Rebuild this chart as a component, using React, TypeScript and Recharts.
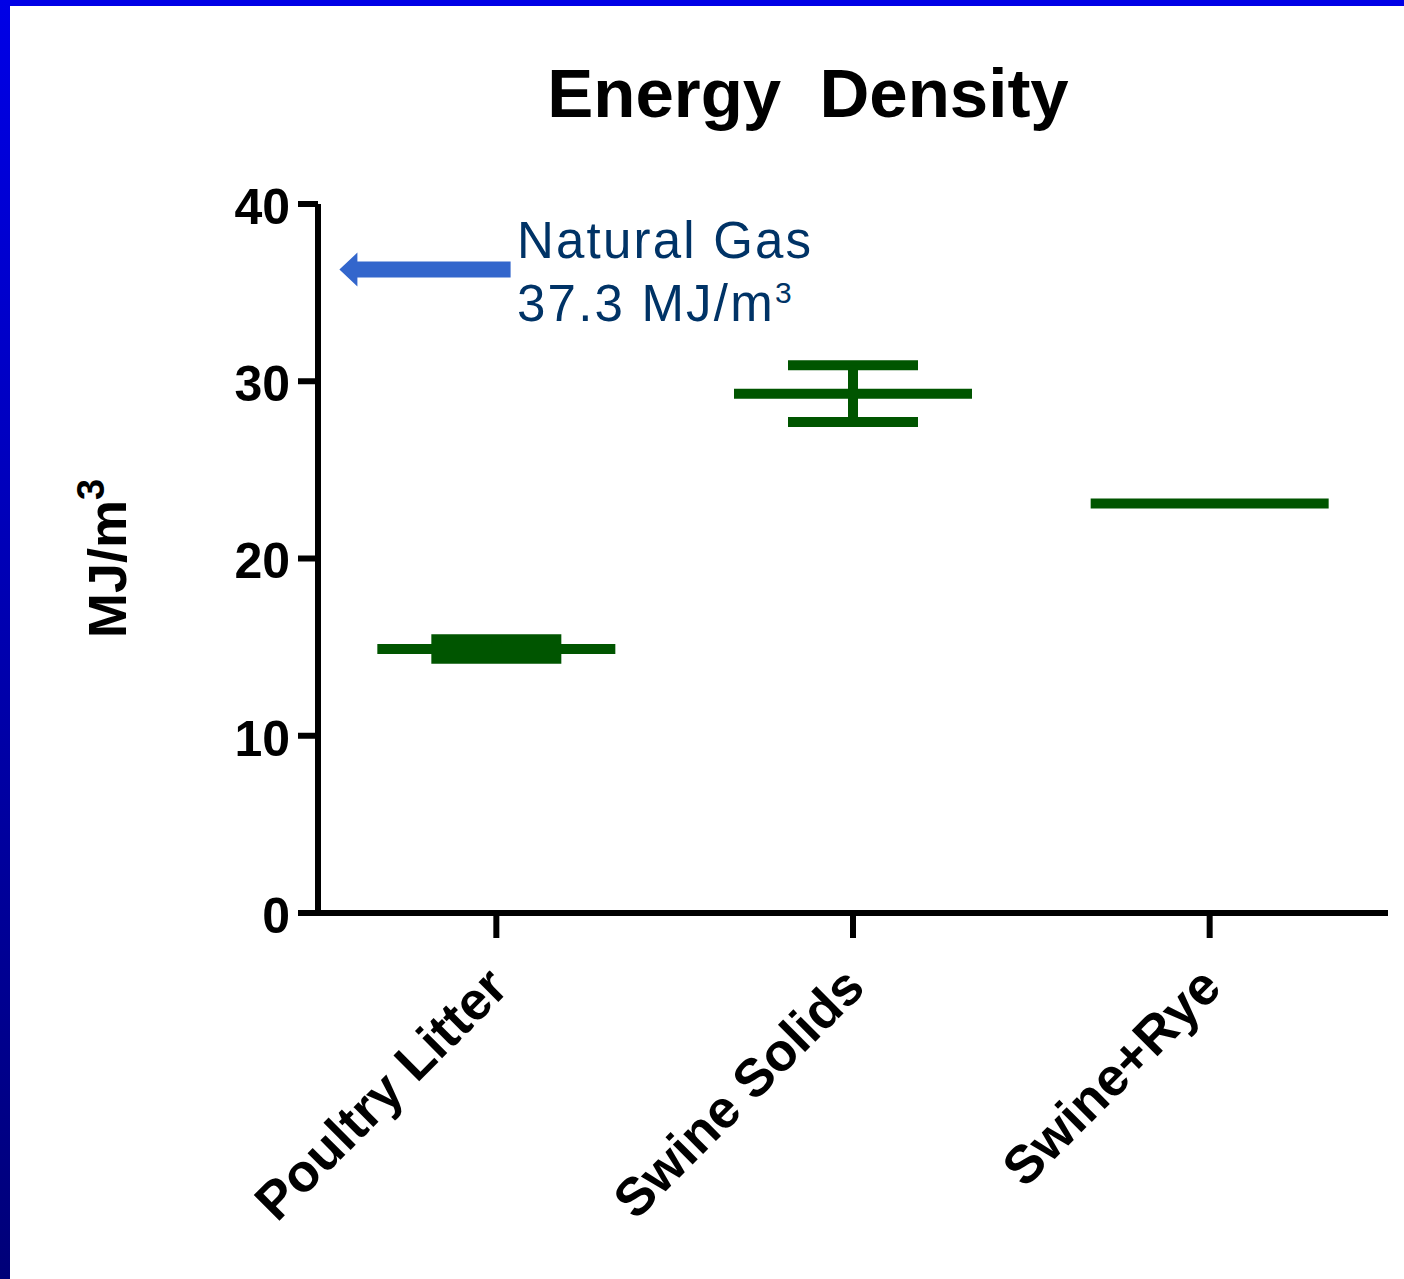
import React from 'react';
import { ComposedChart, Scatter, ErrorBar, XAxis, YAxis, ReferenceLine } from 'recharts';

const categories = ['Poultry Litter', 'Swine Solids', 'Swine+Rye'];
const means = [14.9, 29.3, 23.1];
const errors = [0.55, 1.6, 0];
const yTicks = [0, 10, 20, 30, 40];
// arrow pointing at the natural gas level on the y axis
const arrowStart = 0.54;
const arrowEnd = 0.06;
const arrowLevel = 36.3;
const noteLines = ['Natural Gas', '37.3 MJ/m'];

const GREEN = '#005500';
const FONT = '"Liberation Sans", Arial, sans-serif';

const data = categories.map((name, i) => ({ x: i + 0.5, name, mean: means[i], err: errors[i] }));

const MeanLine = (props: any) => {
  const { cx, cy } = props;
  return <line x1={cx - 119} x2={cx + 119} y1={cy} y2={cy} stroke={GREEN} strokeWidth={10} />;
};

const Arrow = (props: any) => {
  const { x1, y1, x2 } = props;
  const tip = Math.min(x1, x2);
  const tail = Math.max(x1, x2);
  const pts = [
    [tip, y1],
    [tip + 18, y1 - 17],
    [tip + 18, y1 - 8],
    [tail, y1 - 8],
    [tail, y1 + 8],
    [tip + 18, y1 + 8],
    [tip + 18, y1 + 17],
  ].map((p) => p.join(',')).join(' ');
  return <polygon points={pts} fill="#3366cc" />;
};

const XTick = (props: any) => {
  const { x, y, payload } = props;
  const label = categories[Math.round(payload.value - 0.5)];
  return (
    <text
      x={0}
      y={0}
      transform={`translate(${x + 14},${y + 50}) rotate(-45)`}
      textAnchor="end"
      fontFamily={FONT}
      fontWeight="bold"
      fontSize={53}
      fill="#000"
    >
      {label}
    </text>
  );
};

const YLabel = (props: any) => {
  const { viewBox } = props;
  const cx = viewBox.x + 126;
  const cy = viewBox.y + viewBox.height / 2;
  return (
    <text
      x={0}
      y={0}
      transform={`translate(${cx},${cy}) rotate(-90)`}
      textAnchor="middle"
      fontFamily={FONT}
      fontWeight="bold"
      fontSize={54}
      fill="#000"
    >
      MJ/m<tspan dy={-22} fontSize={38}>3</tspan>
    </text>
  );
};

const axisStyle = { stroke: '#000', strokeWidth: 6 };

export default function App() {
  return (
    <div style={{ position: 'absolute', left: 0, top: 0, width: 1404, height: 1279, background: '#fff', overflow: 'hidden' }}>
      <div style={{ position: 'absolute', left: 0, top: 0, width: 1404, height: 6, background: '#0000e6' }} />
      <div style={{ position: 'absolute', left: 0, top: 0, width: 10, height: 1279, background: 'linear-gradient(#0000e6, #000078)' }} />
      <div
        style={{
          position: 'absolute', left: 538, top: 54, width: 540, textAlign: 'center',
          fontFamily: FONT, fontWeight: 'bold', fontSize: 69, color: '#000', whiteSpace: 'pre', lineHeight: '80px',
        }}
      >
        {'Energy  Density'}
      </div>
      <div
        style={{
          position: 'absolute', left: 517, top: 209, fontFamily: FONT, fontSize: 51, letterSpacing: 2.2,
          color: '#003366', lineHeight: '63px', whiteSpace: 'pre',
        }}
      >
        <div>{noteLines[0]}</div>
        <div>{noteLines[1]}<sup style={{ fontSize: 30, verticalAlign: 0, position: 'relative', top: -18 }}>3</sup></div>
      </div>
      <div style={{ position: 'absolute', left: 0, top: 0 }}>
        <ComposedChart width={1404} height={1279} data={data} margin={{ top: 204, right: 16, bottom: 0, left: 0 }}>
          <XAxis
            dataKey="x"
            type="number"
            domain={[0, 3]}
            ticks={[0.5, 1.5, 2.5]}
            stroke="#000"
            strokeWidth={6}
            axisLine={axisStyle}
            tickLine={axisStyle}
            tickSize={25}
            tick={<XTick />}
            height={366}
            interval={0}
          />
          <YAxis
            type="number"
            domain={[0, 40]}
            ticks={yTicks}
            width={318}
            stroke="#000"
            strokeWidth={6}
            axisLine={axisStyle}
            tickLine={axisStyle}
            tickSize={20}
            tickMargin={8}
            tick={{ fill: '#000', fontFamily: FONT, fontWeight: 'bold', fontSize: 50, dy: 2 }}
            label={<YLabel />}
          />
          <ReferenceLine
            segment={[{ x: arrowStart, y: arrowLevel }, { x: arrowEnd, y: arrowLevel }]}
            shape={<Arrow />}
          />
          <Scatter dataKey="mean" shape={<MeanLine />} isAnimationActive={false}>
            <ErrorBar dataKey="err" direction="y" width={65} stroke={GREEN} strokeWidth={10} isAnimationActive={false} />
          </Scatter>
        </ComposedChart>
      </div>
    </div>
  );
}
